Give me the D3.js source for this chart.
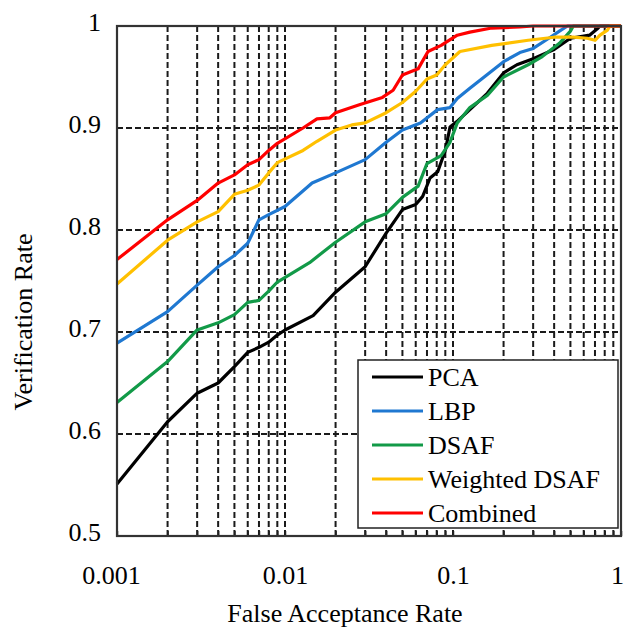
<!DOCTYPE html>
<html>
<head>
<meta charset="utf-8">
<script src="https://d3js.org/d3.v7.min.js"></script>
<style>
  body { margin: 0; background: #fff; }
  text { font-family: "Liberation Serif", "Times New Roman", serif; fill: #000; }
</style>
</head>
<body>
<svg id="chart" width="626" height="632"></svg>
<script>
// curve data (FAR, verification rate)
var farPCA = [0.001, 0.002, 0.003, 0.004, 0.005, 0.006, 0.007, 0.008, 0.009, 0.01, 0.0147, 0.02, 0.03, 0.04, 0.05, 0.06, 0.066, 0.073, 0.081, 0.09, 0.096, 0.105, 0.126, 0.16, 0.2, 0.24, 0.3, 0.4, 0.5, 0.6, 0.65, 0.72, 0.75, 1];
var vrPCA  = [0.551, 0.612, 0.640, 0.650, 0.666, 0.680, 0.685, 0.690, 0.697, 0.702, 0.716, 0.739, 0.764, 0.797, 0.820, 0.825, 0.833, 0.851, 0.857, 0.878, 0.901, 0.906, 0.918, 0.934, 0.954, 0.962, 0.968, 0.977, 0.988, 0.990, 0.991, 0.997, 1, 1];

var farLBP = [0.001, 0.002, 0.003, 0.004, 0.005, 0.006, 0.007, 0.008, 0.01, 0.0145, 0.02, 0.03, 0.04, 0.05, 0.064, 0.081, 0.096, 0.106, 0.126, 0.2, 0.25, 0.3, 0.38, 0.43, 0.48, 1];
var vrLBP  = [0.689, 0.720, 0.746, 0.764, 0.775, 0.787, 0.810, 0.815, 0.823, 0.846, 0.856, 0.869, 0.886, 0.898, 0.905, 0.918, 0.920, 0.929, 0.939, 0.965, 0.974, 0.978, 0.989, 0.995, 1, 1];

var farDSAF = [0.001, 0.002, 0.003, 0.004, 0.005, 0.006, 0.007, 0.008, 0.009, 0.014, 0.02, 0.03, 0.04, 0.05, 0.062, 0.07, 0.085, 0.096, 0.106, 0.126, 0.16, 0.2, 0.28, 0.34, 0.43, 0.5, 0.52, 1];
var vrDSAF  = [0.631, 0.671, 0.702, 0.709, 0.717, 0.729, 0.731, 0.740, 0.749, 0.768, 0.788, 0.808, 0.816, 0.832, 0.843, 0.865, 0.873, 0.886, 0.905, 0.920, 0.932, 0.950, 0.962, 0.970, 0.983, 0.995, 1, 1];

var farWDSAF = [0.001, 0.002, 0.003, 0.004, 0.005, 0.006, 0.007, 0.008, 0.009, 0.0128, 0.0155, 0.02, 0.025, 0.03, 0.04, 0.05, 0.06, 0.07, 0.08, 0.09, 0.11, 0.17, 0.28, 0.4, 0.52, 0.63, 0.7, 0.75, 0.83, 0.86, 1];
var vrWDSAF  = [0.747, 0.790, 0.808, 0.818, 0.835, 0.839, 0.844, 0.856, 0.866, 0.878, 0.887, 0.898, 0.903, 0.905, 0.915, 0.925, 0.936, 0.948, 0.952, 0.962, 0.975, 0.981, 0.986, 0.989, 0.989, 0.988, 0.986, 0.991, 0.996, 1, 1];

var farComb = [0.001, 0.002, 0.003, 0.004, 0.005, 0.006, 0.007, 0.008, 0.009, 0.0128, 0.0155, 0.0185, 0.02, 0.028, 0.038, 0.044, 0.05, 0.062, 0.071, 0.085, 0.106, 0.126, 0.17, 0.25, 0.3, 1];
var vrComb  = [0.771, 0.810, 0.829, 0.846, 0.854, 0.864, 0.869, 0.878, 0.885, 0.900, 0.909, 0.910, 0.915, 0.923, 0.930, 0.937, 0.952, 0.958, 0.975, 0.981, 0.991, 0.994, 0.998, 0.999, 1, 1];

var seriesNames = ["PCA", "LBP", "DSAF", "Weighted DSAF", "Combined"];
var seriesColors = ["#000000", "#1f78d1", "#129a48", "#ffc000", "#ff0000"];

var xMajor = [0.001, 0.01, 0.1, 1];
var xTickLabels = ["0.001", "0.01", "0.1", "1"];
var yTicks = [0.5, 0.6, 0.7, 0.8, 0.9, 1];
var yTickLabels = ["0.5", "0.6", "0.7", "0.8", "0.9", "1"];

var series = [
  { far: farPCA, vr: vrPCA },
  { far: farLBP, vr: vrLBP },
  { far: farDSAF, vr: vrDSAF },
  { far: farWDSAF, vr: vrWDSAF },
  { far: farComb, vr: vrComb }
].map(function(s, i) {
  return {
    name: seriesNames[i],
    color: seriesColors[i],
    points: s.far.map(function(f, j) { return [f, s.vr[j]]; })
  };
});

var plotLeft = 117, plotRight = 621, plotTop = 26, plotBottom = 536;
var W = plotRight - plotLeft, H = plotBottom - plotTop;

var svg = d3.select("#chart");
var g = svg.append("g").attr("transform", "translate(" + plotLeft + "," + plotTop + ")");

var x = d3.scaleLog().domain([0.001, 1]).range([0, W]);
var y = d3.scaleLinear().domain([0.5, 1]).range([H, 0]);

// minor positions 1..9 per decade
var xAll = [];
xMajor.slice(0, 3).forEach(function(d) {
  for (var k = 1; k < 10; k++) xAll.push(d * k);
});
xAll.push(1);

// dashed grid
g.append("g")
  .selectAll("line")
  .data(xAll.filter(function(d) { return d > 0.0011 && d < 0.99; }))
  .enter().append("line")
  .attr("x1", function(d) { return x(d); })
  .attr("x2", function(d) { return x(d); })
  .attr("y1", 0).attr("y2", H)
  .attr("stroke", "#1a1a1a").attr("stroke-width", 2)
  .attr("stroke-dasharray", "6,3");

g.append("g")
  .selectAll("line")
  .data(yTicks.filter(function(d) { return d > 0.5 && d < 1; }))
  .enter().append("line")
  .attr("x1", 0).attr("x2", W)
  .attr("y1", function(d) { return y(d); })
  .attr("y2", function(d) { return y(d); })
  .attr("stroke", "#1a1a1a").attr("stroke-width", 2)
  .attr("stroke-dasharray", "6,3");

// curves
var line = d3.line()
  .x(function(d) { return x(d[0]); })
  .y(function(d) { return y(d[1]); });

g.append("g")
  .selectAll("path")
  .data(series)
  .enter().append("path")
  .attr("d", function(d) { return line(d.points); })
  .attr("fill", "none")
  .attr("stroke", function(d) { return d.color; })
  .attr("stroke-width", 3.2)
  .attr("stroke-linejoin", "round");

// axes with short inside ticks
var xAxis = d3.axisBottom(x).tickValues(xAll).tickSizeInner(-5).tickSizeOuter(0).tickPadding(30)
  .tickFormat(function(d) {
    var i = xMajor.indexOf(d);
    return i >= 0 ? xTickLabels[i] : "";
  });
var gx = g.append("g").attr("transform", "translate(0," + H + ")").call(xAxis);
gx.select(".domain").remove();
gx.selectAll("line").attr("stroke", "#222").attr("stroke-width", 1.5);
gx.selectAll("text").style("font-size", "26px").style("font-family", '"Liberation Serif", serif').attr("fill", "#000")
  .attr("dx", function(d) { return d === 1 ? "-4" : d === 0.001 ? "-6" : "0"; });

var yAxis = d3.axisLeft(y).tickValues(yTicks).tickSizeInner(0).tickSizeOuter(0).tickPadding(16)
  .tickFormat(function(d, i) { return yTickLabels[i]; });
var gy = g.append("g").call(yAxis);
gy.select(".domain").remove();
gy.selectAll("text").style("font-size", "26px").style("font-family", '"Liberation Serif", serif').attr("fill", "#000").attr("dy", "0.18em");

// plot frame
g.append("rect")
  .attr("x", 0).attr("y", 0).attr("width", W).attr("height", H)
  .attr("fill", "none").attr("stroke", "#333").attr("stroke-width", 2.2);

// legend
var lg = svg.append("g").attr("transform", "translate(358,360)");
lg.append("rect")
  .attr("width", 260).attr("height", 168)
  .attr("fill", "#fff").attr("stroke", "#222").attr("stroke-width", 1.5);
var rows = lg.selectAll("g").data(series).enter().append("g")
  .attr("transform", function(d, i) { return "translate(0," + (17 + i * 34) + ")"; });
rows.append("line")
  .attr("x1", 14).attr("x2", 65).attr("y1", 0).attr("y2", 0)
  .attr("stroke", function(d) { return d.color; }).attr("stroke-width", 3.2);
rows.append("text")
  .attr("x", 70).attr("y", 9)
  .style("font-size", "26px")
  .text(function(d) { return d.name; });

// axis titles
svg.append("text")
  .attr("x", 345).attr("y", 622)
  .attr("text-anchor", "middle")
  .style("font-size", "26px")
  .text("False Acceptance Rate");

svg.append("text")
  .attr("transform", "translate(32,322) rotate(-90)")
  .attr("text-anchor", "middle")
  .style("font-size", "26px")
  .text("Verification Rate");
</script>
</body>
</html>
